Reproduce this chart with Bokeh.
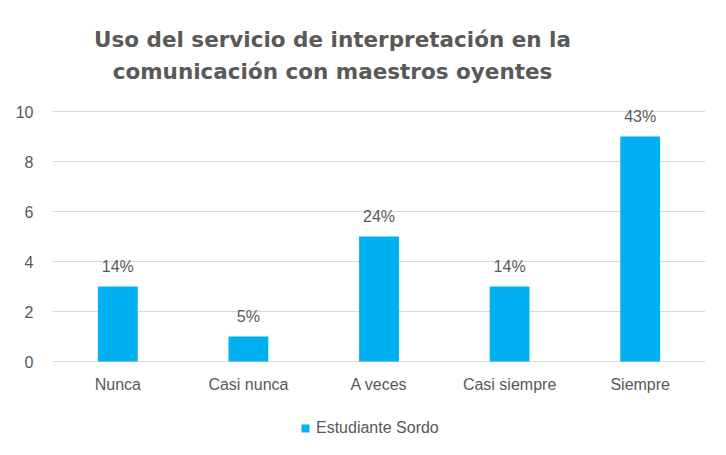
from bokeh.plotting import figure
from bokeh.models import ColumnDataSource, Label, FactorRange, Range1d, FixedTicker, Legend, LegendItem
from bokeh.embed import file_html
from bokeh.resources import INLINE
from bokeh.core.properties import value

categories = ["Nunca", "Casi nunca", "A veces", "Casi siempre", "Siempre"]
counts = [3, 1, 5, 3, 9]
percent_labels = ["14%", "5%", "24%", "14%", "43%"]
y_ticks = [0, 2, 4, 6, 8, 10]
series_name = "Estudiante Sordo"
title_lines = ["Uso del servicio de interpretación en la",
               "comunicación con maestros oyentes"]

BAR = "#00B0F0"
TXT = "#595959"
GRID = "#D9D9D9"
FONT = "Liberation Sans"

W, H = 710, 439
src = ColumnDataSource(dict(cat=categories, val=counts, lab=percent_labels,
                            zero=[0] * len(categories)))

# frame spans the full canvas height; axis value 0 sits 78px above the bottom,
# 10 sits 111px below the top (25px per unit)
p = figure(width=W, height=H, output_backend="svg", toolbar_location=None,
           x_range=FactorRange(*categories, range_padding=0),
           y_range=Range1d(-78 / 25, 10 + 111 / 25),
           min_border_left=52, min_border_right=5, min_border_top=0,
           min_border_bottom=0)
p.outline_line_color = None
p.background_fill_color = "white"
p.border_fill_color = "white"

r = p.vbar(x="cat", top="val", width=0.305, source=src, fill_color=BAR, line_color=None)
p.text(x="cat", y="val", text="lab", source=src, text_align="center",
       text_baseline="alphabetic", y_offset=-20, text_color=TXT,
       text_font=value(FONT), text_font_size="16px")
# category labels under the baseline
p.text(x="cat", y="zero", text="cat", source=src, text_align="center",
       text_baseline="middle", y_offset=23, text_color=TXT,
       text_font=value(FONT), text_font_size="16px")

# axes
p.xaxis.visible = False
p.yaxis.ticker = FixedTicker(ticks=y_ticks)
ax = p.yaxis[0]
ax.axis_line_color = None
ax.major_tick_line_color = None
ax.minor_tick_line_color = None
ax.major_label_text_color = TXT
ax.major_label_text_font = FONT
ax.major_label_text_font_size = "16px"
ax.major_label_standoff = 13
p.xgrid.grid_line_color = None
p.ygrid.grid_line_color = GRID
p.ygrid.grid_line_width = 1.2

# title: two lines, positioned relative to the plot frame (screen px)
for line, yb in zip(title_lines, (H - 39, H - 71)):
    p.add_layout(Label(x=280, y=yb, x_units="screen", y_units="screen", text=line,
                       text_align="center", text_baseline="alphabetic",
                       text_font="DejaVu Sans", text_font_size="21.5px",
                       text_font_style="bold", text_color="#595959"))

legend = Legend(items=[LegendItem(label=series_name, renderers=[r])],
                orientation="horizontal", location=(248, 2),
                label_text_font=FONT, label_text_font_size="16px",
                label_text_color=TXT, glyph_width=10, glyph_height=10,
                border_line_color=None, background_fill_alpha=0,
                margin=0, padding=0, label_standoff=6)
p.add_layout(legend)

open("out.html", "w").write(file_html(p, INLINE))
